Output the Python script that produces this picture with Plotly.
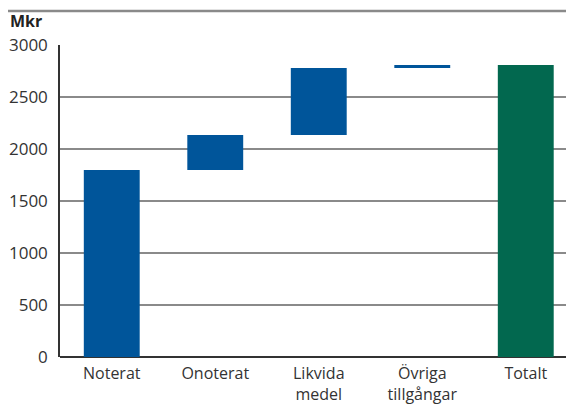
import plotly.graph_objects as go

categories = ["Noterat", "Onoterat", "Likvida<br>medel", "Övriga<br>tillgångar", "Totalt"]
measures = ["relative", "relative", "relative", "relative", "total"]
values = [1798, 337, 645, 28, 0]
y_ticks = [0, 500, 1000, 1500, 2000, 2500, 3000]

BLUE = "#00559A"
GREEN = "#02684F"

fig = go.Figure(go.Waterfall(
    x=categories,
    measure=measures,
    y=values,
    increasing=dict(marker=dict(color=BLUE)),
    decreasing=dict(marker=dict(color=BLUE)),
    totals=dict(marker=dict(color=GREEN)),
    connector=dict(visible=False),
    textinfo="none",
    hoverinfo="skip",
))

fig.update_layout(
    width=566, height=397,
    margin=dict(l=52, r=0, t=37, b=48, autoexpand=False),
    paper_bgcolor="white", plot_bgcolor="white",
    showlegend=False,
    waterfallgap=0.46,
    font=dict(family="Open Sans", size=16, color="#333333"),
    xaxis=dict(
        range=[-0.5, 4.466],
        automargin=False,
        showgrid=False,
        showline=False,
        ticks="",
        ticklabelstandoff=5,
        tickfont=dict(size=16, color="#333333"),
    ),
    yaxis=dict(
        range=[0, 3000],
        automargin=False,
        tickvals=y_ticks,
        showgrid=True, gridcolor="#8a8a8a", gridwidth=2,
        showline=True, linecolor="#333333", linewidth=1.5,
        zeroline=True, zerolinecolor="#333333", zerolinewidth=2,
        ticks="", ticklabelstandoff=7,
        tickfont=dict(size=17, color="#333333"),
    ),
    shapes=[dict(type="line", xref="paper", yref="paper",
                 x0=-0.111, x1=1.0, y0=1.109, y1=1.109,
                 line=dict(color="#8a8a8a", width=2.5))],
    annotations=[dict(text="<b>Mkr</b>", xref="paper", yref="paper",
                      x=-0.101, y=1.035, xanchor="left", yanchor="bottom",
                      showarrow=False,
                      font=dict(family="Open Sans", size=16, color="#222222"))],
)

fig.write_html("out.html")
